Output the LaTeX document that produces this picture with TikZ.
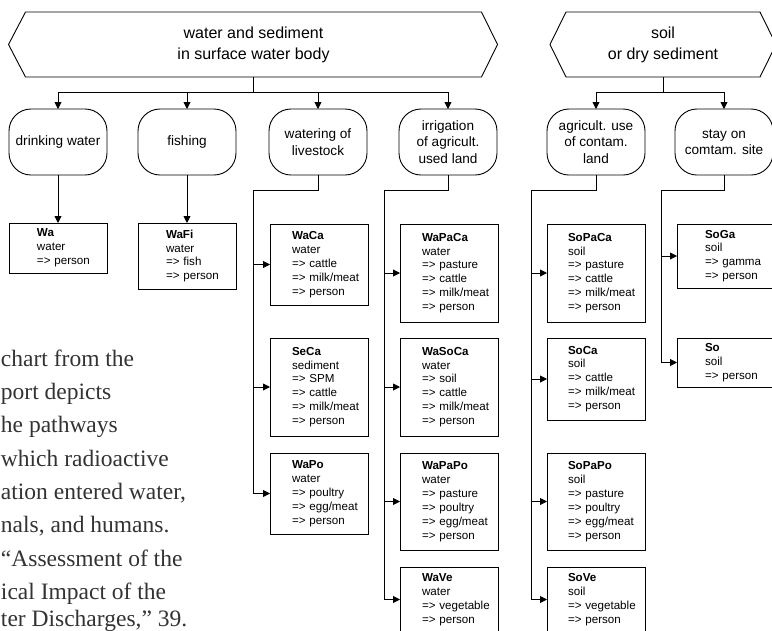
\documentclass[tikz,border=0pt]{standalone}
\usepackage{fontspec}
\setmainfont{Liberation Sans}
\newfontfamily\capfont{Liberation Serif}
\usetikzlibrary{arrows.meta, calc, positioning}
\definecolor{capgray}{HTML}{333333}
\newcommand{\pathway}[3]{\leftskip=#1\relax\textbf{#2}\\#3\par}

\begin{document}
\begin{tikzpicture}[x=1pt, y=-1pt, line width=0.9pt, outer sep=0pt,
    medium/.style={minimum width=#1, minimum height=65pt, inner sep=0pt, align=center, font=\fontsize{16}{21}\selectfont},
    usage/.style={draw, rounded corners=22pt, minimum width=98pt, minimum height=66pt, inner sep=0pt, align=center, font=\fontsize{13.6}{16.6}\selectfont},
    expo/.style={draw, anchor=north west, text width=98pt, inner sep=0pt, minimum height=#1, align=left, font=\fontsize{11.6}{13.9}\selectfont},
    caption/.style={anchor=base west, inner sep=0pt, text=capgray, font=\capfont\fontsize{23.5}{28}\selectfont},
    arr/.style={-{Triangle[length=7pt, width=7pt]}}]
    \useasboundingbox (0,0) rectangle (772,630);
    \clip (0,0) rectangle (772,630);

    % contaminated media
    \node[medium=456pt] (wsed) at (253.5,44.5) {water and sediment\\in surface water body};
    \draw (wsed.north west) -- (wsed.north east) -- ([xshift=16pt]wsed.east) -- (wsed.south east) -- (wsed.south west) -- ([xshift=-17pt]wsed.west) -- cycle;
    \node[medium=194pt] (soil) at (663,44.5) {soil\\or dry sediment};
    \draw (soil.north west) -- (soil.north east) -- ([xshift=16pt]soil.east) -- (soil.south east) -- (soil.south west) -- ([xshift=-16pt]soil.west) -- cycle;

    % kinds of use
    \node[usage] (drink) at (58,142) {drinking water};
    \node[usage, right=31pt of drink] (fish) {fishing};
    \node[usage, right=33pt of fish] (live) {watering of\\livestock};
    \node[usage, right=32pt of live] (irri) {irrigation\\of agricult.\\used land};
    \node[usage, right=50pt of irri] (agri) {agricult. use\\of contam.\\land};
    \node[usage, right=30pt of agri] (stay) {stay on\\comtam. site};

    \draw[arr] (wsed.south) -- ++(0,15) -| (drink);
    \draw[arr] (wsed.south) -- ++(0,15) -| (fish);
    \draw[arr] (wsed.south) -- ++(0,15) -| (live);
    \draw[arr] (wsed.south) -- ++(0,15) -| (irri);
    \draw[arr] (soil.south) -- ++(0,15) -| (agri);
    \draw[arr] (soil.south) -- ++(0,15) -| (stay);

    % exposure pathways
    \node[expo=50pt] (Wa) at (9,223) {\pathway{28pt}{Wa}{water\\=> person}};
    \node[expo=66pt] (WaFi) at (138,223) {\pathway{28pt}{WaFi}{water\\=> fish\\=> person}};

    \node[expo=81pt] (WaCa) at (270,224) {\pathway{22pt}{WaCa}{water\\=> cattle\\=> milk/meat\\=> person}};
    \node[expo=98pt] (SeCa) at (270,338) {\pathway{22pt}{SeCa}{sediment\\=> SPM\\=> cattle\\=> milk/meat\\=> person}};
    \node[expo=81pt] (WaPo) at (270,453) {\pathway{22pt}{WaPo}{water\\=> poultry\\=> egg/meat\\=> person}};

    \node[expo=98pt] (WaPaCa) at (400,224) {\pathway{22pt}{WaPaCa}{water\\=> pasture\\=> cattle\\=> milk/meat\\=> person}};
    \node[expo=98pt] (WaSoCa) at (400,338) {\pathway{22pt}{WaSoCa}{water\\=> soil\\=> cattle\\=> milk/meat\\=> person}};
    \node[expo=97pt] (WaPaPo) at (400,453) {\pathway{22pt}{WaPaPo}{water\\=> pasture\\=> poultry\\=> egg/meat\\=> person}};
    \node[expo=65pt] (WaVe) at (400,567) {\pathway{22pt}{WaVe}{water\\=> vegetable\\=> person}};

    \node[expo=98pt] (SoPaCa) at (547,224) {\pathway{21pt}{SoPaCa}{soil\\=> pasture\\=> cattle\\=> milk/meat\\=> person}};
    \node[expo=82pt] (SoCa) at (547,338) {\pathway{21pt}{SoCa}{soil\\=> cattle\\=> milk/meat\\=> person}};
    \node[expo=97pt] (SoPaPo) at (547,453) {\pathway{21pt}{SoPaPo}{soil\\=> pasture\\=> poultry\\=> egg/meat\\=> person}};
    \node[expo=65pt] (SoVe) at (547,567) {\pathway{21pt}{SoVe}{soil\\=> vegetable\\=> person}};

    \node[expo=64pt] (SoGa) at (677,224) {\pathway{28pt}{SoGa}{soil\\=> gamma\\=> person}};
    \node[expo=49pt] (So) at (677,338) {\pathway{28pt}{So}{soil\\=> person}};

    \draw[arr] (drink) -- (Wa);
    \draw[arr] (fish) -- (WaFi);

    \draw[arr] (live.south) -- ++(0,15) -| ([xshift=-17pt]WaPo.west) -- (WaPo.west);
    \draw[arr] ([xshift=-17pt]WaCa.west) -- (WaCa.west);
    \draw[arr] ([xshift=-17pt]SeCa.west) -- (SeCa.west);

    \draw[arr] (irri.south) -- ++(0,15) -| ([xshift=-16pt]WaVe.west) -- (WaVe.west);
    \draw[arr] ([xshift=-16pt]WaPaCa.west) -- (WaPaCa.west);
    \draw[arr] ([xshift=-16pt]WaSoCa.west) -- (WaSoCa.west);
    \draw[arr] ([xshift=-16pt]WaPaPo.west) -- (WaPaPo.west);

    \draw[arr] (agri.south) -- ++(0,15) -| ([xshift=-16pt]SoVe.west) -- (SoVe.west);
    \draw[arr] ([xshift=-16pt]SoPaCa.west) -- (SoPaCa.west);
    \draw[arr] ([xshift=-16pt]SoCa.west) -- (SoCa.west);
    \draw[arr] ([xshift=-16pt]SoPaPo.west) -- (SoPaPo.west);

    \draw[arr] (stay.south) -- ++(0,15) -| ([xshift=-16pt]So.west) -- (So.west);
    \draw[arr] ([xshift=-16pt]SoGa.west) -- (SoGa.west);

    % caption over the chart
    \node[caption] (cap1) at (1,366) {chart from the};
    \node[caption] (cap2) at (1,399.3) {port depicts};
    \node[caption] (cap3) at (1,432.6) {he pathways};
    \node[caption] (cap4) at (1,466) {which radioactive};
    \node[caption] (cap5) at (1,499.3) {ation entered water,};
    \node[caption] (cap6) at (1,532.6) {nals, and humans.};
    \node[caption] (cap7) at (1,566) {“Assessment of the};
    \node[caption] (cap8) at (1,599.3) {ical Impact of the};
    \node[caption] (cap9) at (1,626) {ter Discharges,” 39.};
\end{tikzpicture}
\end{document}
